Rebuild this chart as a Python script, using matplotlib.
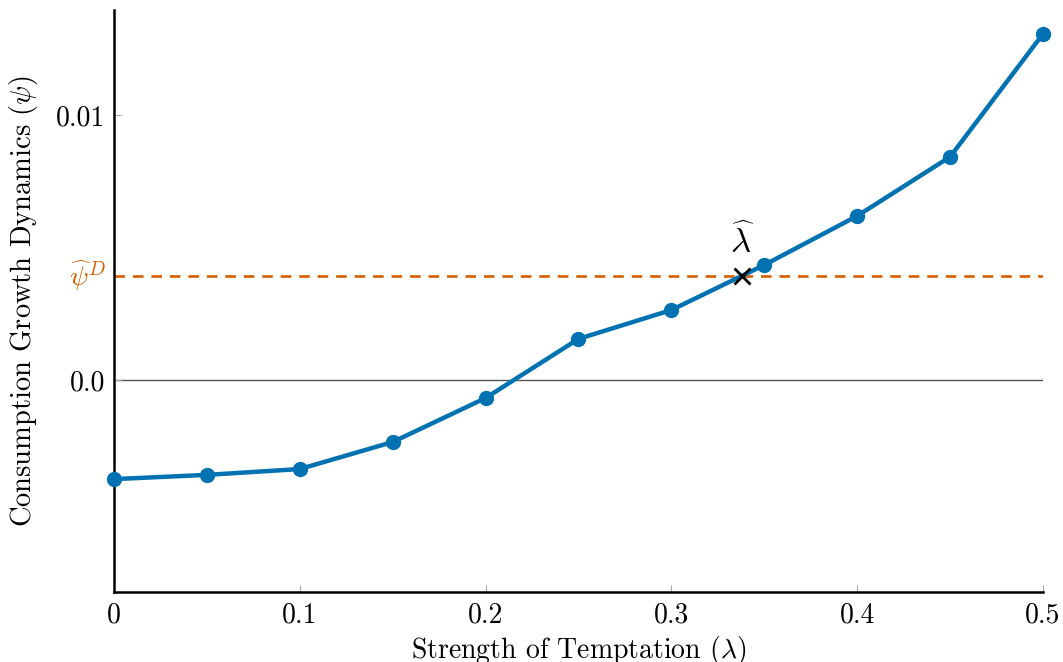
import matplotlib
matplotlib.use("Agg")
import matplotlib.pyplot as plt

# values
temptation = [0.0, 0.05, 0.1, 0.15, 0.2, 0.25, 0.3, 0.35, 0.4, 0.45, 0.5]
growth = [-0.00374, -0.00358, -0.00336, -0.00234, -0.00068, 0.00155,
          0.00264, 0.00434, 0.00619, 0.00842, 0.01306]
psi_hat_d = 0.00393
lambda_hat = 0.338
x_ticks = [0, 0.1, 0.2, 0.3, 0.4, 0.5]
x_tick_labels = ["0", "0.1", "0.2", "0.3", "0.4", "0.5"]
y_ticks = [0.0, 0.01]
y_tick_labels = ["0.0", "0.01"]

BLUE = "#0072B2"
ORANGE = "#D55E00"

plt.rcParams["font.family"] = "serif"
plt.rcParams["font.serif"] = ["cmr10", "DejaVu Serif"]
plt.rcParams["mathtext.fontset"] = "cm"
plt.rcParams["axes.unicode_minus"] = False

fig = plt.figure(figsize=(10.63, 6.62), dpi=100)
ax = fig.add_axes([0.1072, 0.1057, 0.8740, 0.8792])

ax.axhline(0.0, color="#555555", lw=1.0, zorder=1)
ax.axhline(psi_hat_d, color=ORANGE, lw=1.9, ls=(0, (4, 3)), zorder=2)
ax.plot(temptation, growth, "o-", color=BLUE, lw=3.2, ms=10, zorder=3,
        clip_on=False)
ax.plot([lambda_hat], [psi_hat_d], "x", color="black", ms=12, mew=2, zorder=4)
ax.text(lambda_hat, psi_hat_d + 0.0006, r"$\widehat{\lambda}$", fontsize=25,
        ha="center", va="bottom")
ax.text(-0.0045, psi_hat_d, r"$\widehat{\psi}^D$", color=ORANGE, fontsize=20,
        ha="right", va="center", clip_on=False)

ax.set_xlim(0, 0.5)
ax.set_ylim(-0.008, 0.01396)
ax.set_xticks(x_ticks)
ax.set_xticklabels(x_tick_labels)
ax.set_yticks(y_ticks)
ax.set_yticklabels(y_tick_labels)
ax.tick_params(direction="in", length=5, width=0.8, color="#aaaaaa",
               labelsize=20)
ax.tick_params(axis="x", pad=7)
ax.tick_params(axis="y", pad=6)

for side in ["top", "right"]:
    ax.spines[side].set_visible(False)
for side in ["left", "bottom"]:
    ax.spines[side].set_linewidth(1.8)

ax.set_xlabel(r"Strength of Temptation ($\lambda$)", fontsize=20)
ax.set_ylabel(r"Consumption Growth Dynamics ($\psi$)", fontsize=20.5)
ax.xaxis.set_label_coords(0.5, -0.072)
ax.yaxis.set_label_coords(-0.080, 0.5)

fig.savefig("out.png", dpi=100)
